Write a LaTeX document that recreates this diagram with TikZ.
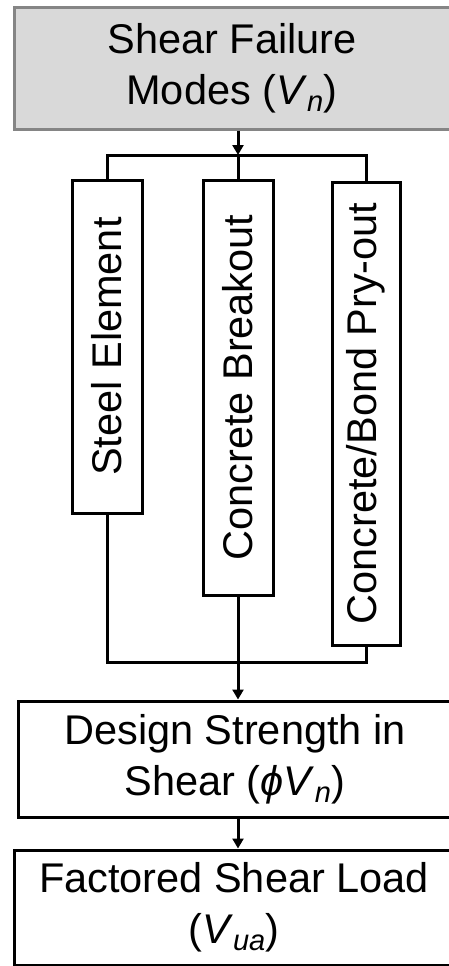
\documentclass[tikz,border=0pt]{standalone}
\usepackage{fontspec}
\setmainfont{Liberation Sans}
\usetikzlibrary{arrows.meta}
\begin{document}
\begin{tikzpicture}[x=1pt,y=-1pt,
  every node/.style={font=\fontsize{41.5}{51}\selectfont, align=center, inner sep=0pt},
  box/.style={draw=black, line width=3pt, fill=white},
  graybox/.style={draw=black!48, line width=3pt, fill=black!15},
  vbox/.style={box},
  conn/.style={line width=3pt, line cap=rect},
  arr/.style={line width=3pt, -{Triangle[width=11pt,length=10pt]}}]
\useasboundingbox (0,0) rectangle (448,966);
\node[graybox, minimum width=436pt, minimum height=121pt] (top) at (232,68.5)
  {Shear Failure\\Modes (\textit{V}\textsubscript{\textit{n}})};
\node[vbox, minimum width=70pt, minimum height=333pt] (se) at (107,346.5)
  {\rotatebox{90}{Steel Element}};
\node[vbox, minimum width=70pt, minimum height=415pt] (cb) at (238,387.5)
  {\rotatebox{90}{Concrete Breakout}};
\node[vbox, minimum width=68pt, minimum height=463pt] (pr) at (366,413.5)
  {\rotatebox{90}{Concrete/Bond Pry-out}};
\node[box, minimum width=434pt, minimum height=116pt] (ds) at (235,759)
  {Design Strength in\\Shear (\textit{ϕV}\textsubscript{\textit{n}})};
\node[box, minimum width=440pt, minimum height=115pt] (fl) at (234,907.5)
  {Factored Shear Load\\(\textit{V}\textsubscript{\textit{ua}})};
\coordinate (busT) at (0,155);
\coordinate (busB) at (0,662);
\draw[arr] (top.south -| cb.north) -- (cb.north |- busT);
\draw[conn] (se.north) -- (se.north |- busT) -- (pr.north |- busT) -- (pr.north);
\draw[conn] (cb.north |- busT) -- (cb.north);
\draw[conn] (se.south) -- (se.south |- busB) -- (pr.south |- busB) -- (pr.south);
\draw[arr] (cb.south) -- (ds.north -| cb.south);
\draw[arr] (ds.south -| cb.south) -- (fl.north -| cb.south);
\end{tikzpicture}
\end{document}
